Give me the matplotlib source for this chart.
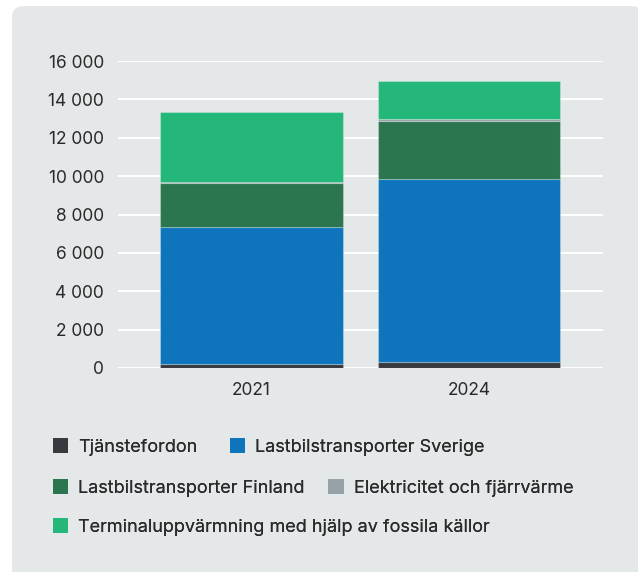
import matplotlib
matplotlib.use("Agg")
import matplotlib.pyplot as plt
from matplotlib.patches import FancyBboxPatch, Patch
from matplotlib.ticker import FuncFormatter
import numpy as np

plt.rcParams['font.family'] = ['Inter', 'DejaVu Sans']

years = ['2021', '2024']
series_names = [
    'Tjänstefordon',
    'Lastbilstransporter Sverige',
    'Lastbilstransporter Finland',
    'Elektricitet och fjärrvärme',
    'Terminaluppvärmning med hjälp av fossila källor',
]
tjanstefordon = [230, 290]
lastbil_sverige = [7130, 9570]
lastbil_finland = [2260, 3030]
el_fjarrvarme = [80, 70]
terminal = [3630, 2020]
series_values = [tjanstefordon, lastbil_sverige, lastbil_finland, el_fjarrvarme, terminal]
colors = ['#373a3e', '#0e75bc', '#2b764f', '#97a2a6', '#25b67a']
y_ticks = [0, 2000, 4000, 6000, 8000, 10000, 12000, 14000, 16000]

bg = '#e4e8e9'
text_color = '#2a2a2a'
fs = 12.5
legend_fs = 13

fig = plt.figure(figsize=(6.38, 5.72), dpi=100)
fig.patch.set_facecolor('white')

# rounded grey panel behind everything
panel = FancyBboxPatch((12 / 638, -0.05), 0.99, 1.05 - 6 / 572,
                       boxstyle="round,pad=0,rounding_size=0.02",
                       transform=fig.transFigure, facecolor=bg, edgecolor='none',
                       zorder=-10)
fig.patches.append(panel)

ax = fig.add_axes([118 / 638, 1 - 368 / 572, (603 - 118) / 638, (368 - 61) / 572])
ax.patch.set_alpha(0)

x = np.arange(len(years))
bottom = np.zeros(len(years))
for name, vals, c in zip(series_names, series_values, colors):
    ax.bar(x, vals, width=0.84, bottom=bottom, color=c, label=name,
           edgecolor=(1, 1, 1, 0.25), linewidth=0.8, zorder=3)
    bottom += np.array(vals)

ax.set_xlim(-0.614, 1.616)
ax.set_ylim(0, 16000)
ax.set_yticks(y_ticks)
ax.yaxis.set_major_formatter(FuncFormatter(lambda v, p: f'{int(v):,}'.replace(',', ' ')))
ax.set_xticks(x)
ax.set_xticklabels(years)
ax.grid(axis='y', color='white', linewidth=1.5, zorder=0)
ax.tick_params(axis='y', length=0, pad=10, labelsize=fs, labelcolor=text_color)
ax.tick_params(axis='x', length=0, pad=10, labelsize=fs, labelcolor=text_color)
for s in ax.spines.values():
    s.set_visible(False)

# legend rows, laid out like the original
handles = [Patch(facecolor=c, edgecolor='none') for c in colors]
rows = [([0, 1], 0.2185, 1.8), ([2, 3], 0.147, 1.3), ([4], 0.0787, 1.0)]
for idx, ypos, colsp in rows:
    leg = fig.legend([handles[i] for i in idx], [series_names[i] for i in idx],
                     loc='center left', bbox_to_anchor=(53 / 638, ypos),
                     ncol=len(idx), frameon=False, fontsize=legend_fs,
                     handlelength=0.85, handleheight=0.9, handletextpad=0.55,
                     columnspacing=colsp, borderpad=0, borderaxespad=0,
                     labelcolor=text_color)
    fig.add_artist(leg)

fig.savefig('out.png', dpi=100)
